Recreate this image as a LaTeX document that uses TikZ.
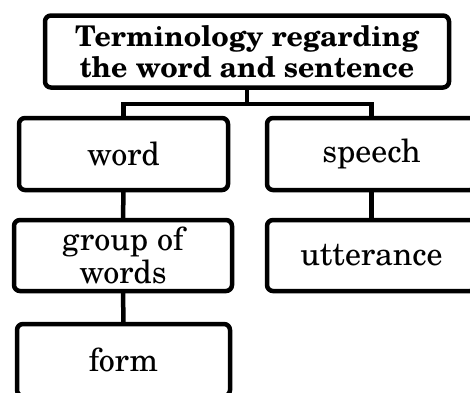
\documentclass[tikz,border=0pt]{standalone}
\usepackage{fontspec}
\setmainfont{texgyreschola}[Extension=.otf, UprightFont=*-regular, BoldFont=*-bold]
\begin{document}
\begin{tikzpicture}[x=1pt,y=1pt,
  box/.style={draw=black, line width=4.5pt, rounded corners=6pt, rectangle,
    inner sep=0pt, outer sep=0pt, align=center,
    font=\fontsize{32}{31}\selectfont},
  link/.style={draw=black, line width=4.5pt}]
\useasboundingbox (0,0) rectangle (470,-392);
\clip (0,0) rectangle (470,-392);
\fill[white] (0,0) rectangle (470,-392);

\node[box, minimum width=404pt, minimum height=72pt,
  font=\fontsize{28.5}{31}\selectfont\bfseries] (top) at (247,-51.5)
  {Terminology regarding\\the word and sentence};

\node[box, minimum width=209pt, minimum height=72pt] (word) at (123.5,-154) {word};
\node[box, minimum width=209pt, minimum height=72pt] (speech) at (371.5,-154) {speech};
\node[box, minimum width=218pt, minimum height=71pt,
  font=\fontsize{32}{33.5}\selectfont] (group) at (123,-255.5) {group of\\words};
\node[box, minimum width=209pt, minimum height=71pt] (utter) at (371.5,-255.5) {utterance};
\node[box, minimum width=213pt, minimum height=72pt] (form) at (123.5,-360) {form};

\coordinate (fork) at (247,-104);
\draw[link] (top.south) -- (fork);
\draw[link] (word.north) |- (fork) -| (speech.north);
\draw[link] (word.south) -- (group.north);
\draw[link] (group.south) -- (form.north);
\draw[link] (speech.south) -- (utter.north);
\end{tikzpicture}
\end{document}
